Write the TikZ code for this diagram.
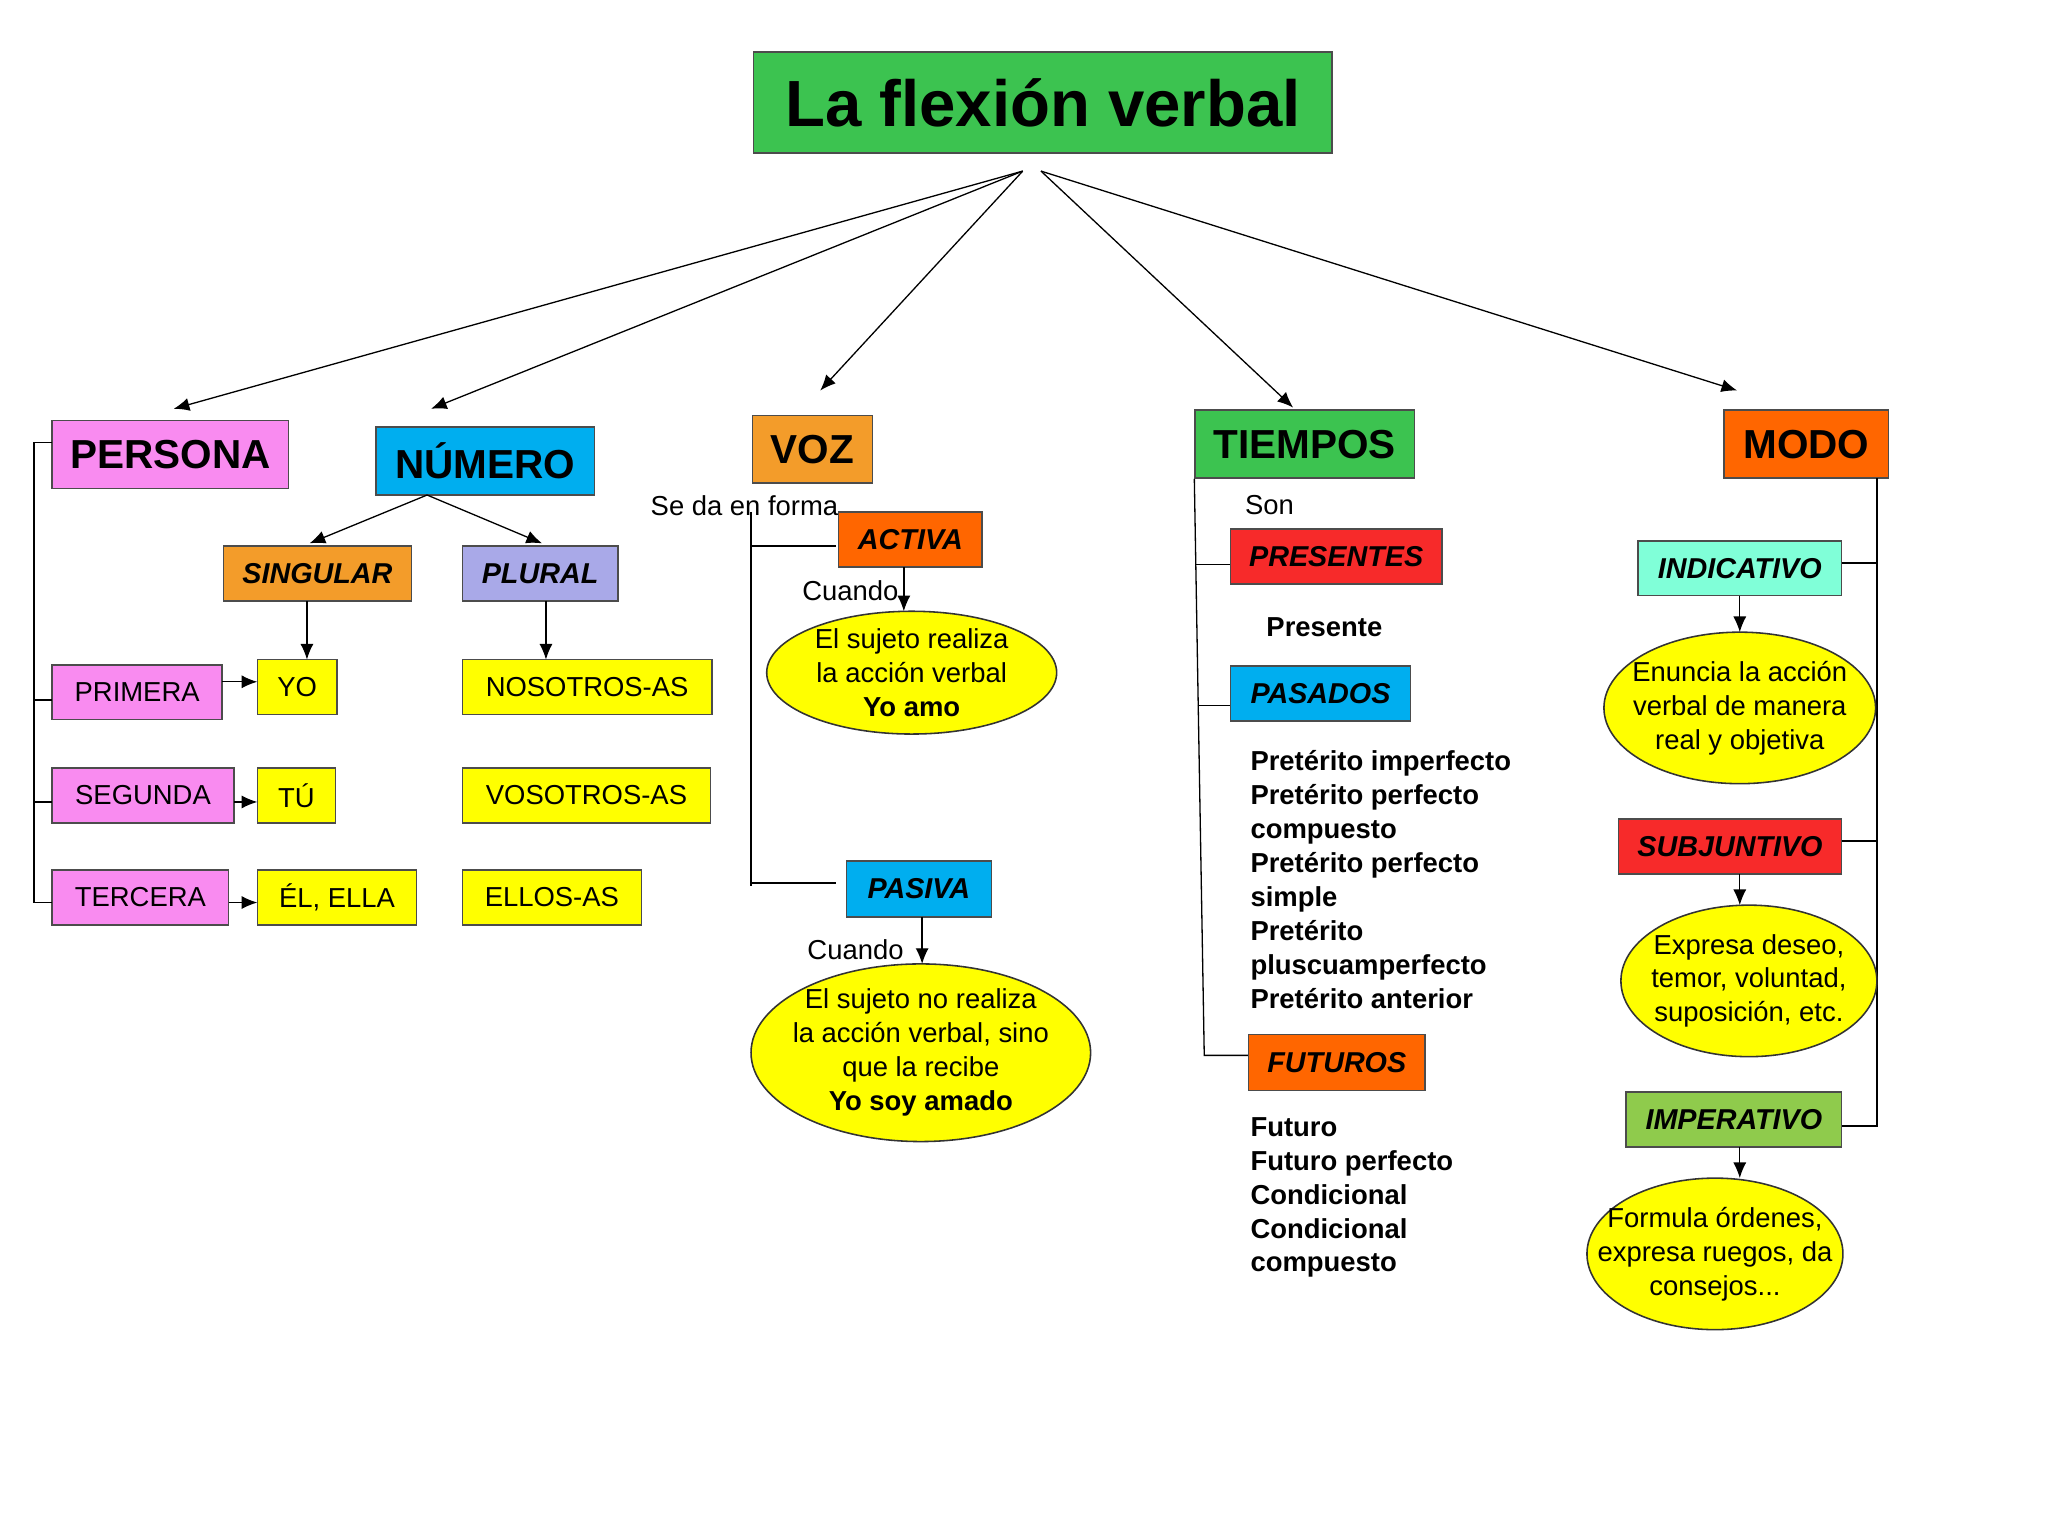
\documentclass[tikz,border=0pt]{standalone}
\usepackage{fontspec}
\setmainfont{Liberation Sans}
\usetikzlibrary{fit,shapes.geometric,arrows.meta}
\definecolor{gr}{HTML}{3CC350}
\definecolor{pk}{HTML}{F98BF0}
\definecolor{cy}{HTML}{00AEEF}
\definecolor{org}{HTML}{F39C2A}
\definecolor{ored}{HTML}{FF6600}
\definecolor{lav}{HTML}{A9A9E8}
\definecolor{yl}{HTML}{FFFF00}
\definecolor{rd}{HTML}{F72A2A}
\definecolor{aq}{HTML}{80FFD8}
\definecolor{lg}{HTML}{8FCB4C}
\tikzset{x=0.5pt,y=-0.5pt,
 bx/.style={draw=black!70,line width=0.6pt,inner sep=0pt},
 big/.style={font=\fontsize{15.5}{18}\selectfont\bfseries},
 mid/.style={font=\fontsize{11}{13}\selectfont\bfseries\itshape},
 sm/.style={font=\fontsize{10.5}{12.5}\selectfont},
 ell/.style={ellipse,draw=black!80,fill=yl,line width=0.6pt,inner sep=0pt},
 et/.style={align=center,inner sep=0pt,font=\fontsize{10.5}{13}\selectfont},
 ar/.style={-{Latex[length=6pt,width=5pt]},line width=0.5pt},
 ln/.style={line width=0.5pt}}
\newcommand\B[8]{\node[bx,fill=#6,fit={(#2,#3)(#4,#5)}] (#1) {}; \node[#7] (#1t) at (#1) {#8};}
\newcommand\E[6]{\node[ell,minimum width=#4pt,minimum height=#5pt] (#1) at (#2,#3) {}; \node[et] (#1t) at (#1) {#6};}
\begin{document}
\begin{tikzpicture}
\fill[white] (0,0) rectangle (1568,1176);
\B{title}{577}{40}{1020}{117}{gr}{font=\fontsize{25}{30}\selectfont\bfseries}{La flexión verbal}
\B{pers}{40}{322}{221}{374}{pk}{big}{PERSONA}
\B{num}{288}{327}{455}{379}{cy}{big}{NÚMERO}
\B{voz}{576}{318}{668}{370}{org}{big}{VOZ}
\B{tiem}{915}{314}{1083}{366}{gr}{big}{TIEMPOS}
\B{modo}{1320}{314}{1446}{366}{ored}{big}{MODO}
\coordinate (t1) at (783,131); \coordinate (t2) at (797,131);
\draw[ar] (t1) -- (133,313);
\draw[ar] (t1) -- (330,313);
\draw[ar] (t1) -- (628,299);
\draw[ar] (t2) -- (990,312);
\draw[ar] (t2) -- (1330,299);
% numero
\B{sing}{171}{418}{315}{460}{org}{mid}{SINGULAR}
\B{plur}{354}{418}{473}{460}{lav}{mid}{PLURAL}
\coordinate (nb) at (327,379);
\draw[ar] (nb) -- (237,416);
\draw[ar] (nb) -- (415,416);
\B{prim}{40}{509}{170}{551}{pk}{sm}{PRIMERA}
\B{yo}{197}{505}{258}{547}{yl}{sm}{YO}
\B{seg}{40}{588}{179}{630}{pk}{sm}{SEGUNDA}
\B{tu}{197}{588}{257}{630}{yl}{sm}{TÚ}
\B{ter}{40}{666}{175}{708}{pk}{sm}{TERCERA}
\B{el}{197}{666}{319}{708}{yl}{sm}{ÉL, ELLA}
\B{nos}{354}{505}{545}{547}{yl}{sm}{NOSOTROS-AS}
\B{vos}{354}{588}{544}{630}{yl}{sm}{VOSOTROS-AS}
\B{ell}{354}{666}{491}{708}{yl}{sm}{ELLOS-AS}
\draw[ar] (235,460) -- (235,505);
\draw[ar] (418,460) -- (418,505);
\draw[ar] (170,522) -- (197,522);
\draw[ar] (179,614) -- (197,614);
\draw[ar] (175,691) -- (197,691);
\draw[ln] (40,339) -- (26,339) -- (26,691) -- (40,691);
\draw[ln] (26,536) -- (40,536);
\draw[ln] (26,614) -- (40,614);
% voz
\node[sm] (seda) at (570,387) {Se da en forma};
\B{act}{642}{392}{752}{434}{ored}{mid}{ACTIVA}
\B{pas}{648}{659}{759}{702}{cy}{mid}{PASIVA}
\draw[ln] (575,392) -- (575,678);
\draw[ln] (575,418) -- (640,418);
\draw[ln] (575,676) -- (640,676);
\node[sm] (c1) at (651,452) {Cuando};
\E{e1}{698}{515}{111}{47}{El sujeto realiza\\la acción verbal\\\textbf{Yo amo}}
\draw[ar] (692,434) -- (692,468);
\node[sm] (c2) at (655,727) {Cuando};
\E{e2}{705}{806}{130}{68}{El sujeto no realiza\\la acción verbal, sino\\que la recibe\\\textbf{Yo soy amado}}
\draw[ar] (706,702) -- (706,738);
% tiempos
\draw[ln] (tiem.south west) -- (922,808) -- (956,808);
\node[sm] (son) at (972,387) {Son};
\B{pres}{942}{405}{1104}{447}{rd}{mid}{PRESENTES}
\B{pasd}{942}{510}{1080}{552}{cy}{mid}{PASADOS}
\B{fut}{956}{792}{1091}{835}{ored}{mid}{FUTUROS}
\draw[ln] (916,432) -- (942,432);
\draw[ln] (917,540) -- (942,540);
\node[font=\fontsize{10.5}{13}\selectfont\bfseries] (prs) at (1014,480) {Presente};
\node[anchor=north west,align=left,inner sep=0pt,font=\fontsize{10.5}{13}\selectfont\bfseries] (pl) at (957,574) {Pretérito imperfecto\\Pretérito perfecto\\compuesto\\Pretérito perfecto\\simple\\Pretérito\\pluscuamperfecto\\Pretérito anterior};
\node[anchor=north west,align=left,inner sep=0pt,font=\fontsize{10.5}{13}\selectfont\bfseries] (fl) at (957,855) {Futuro\\Futuro perfecto\\Condicional\\Condicional\\compuesto};
% modo
\draw[ln] (1437,366) -- (1437,862) -- (1410,862);
\B{ind}{1254}{414}{1410}{456}{aq}{mid}{INDICATIVO}
\B{sub}{1239}{627}{1410}{669}{rd}{mid}{SUBJUNTIVO}
\B{imp}{1245}{836}{1410}{878}{lg}{mid}{IMPERATIVO}
\draw[ln] (1410,431) -- (1437,431);
\draw[ln] (1410,644) -- (1437,644);
\E{e3}{1332}{542}{104}{58}{Enuncia la acción\\verbal de manera\\real y objetiva}
\E{e4}{1339}{751}{98}{58}{Expresa deseo,\\temor, voluntad,\\suposición, etc.}
\E{e5}{1313}{960}{98}{58}{Formula órdenes,\\expresa ruegos, da\\consejos...}
\draw[ar] (1332,456) -- (1332,484);
\draw[ar] (1332,669) -- (1332,693);
\draw[ar] (1332,878) -- (1332,902);
\end{tikzpicture}
\end{document}
